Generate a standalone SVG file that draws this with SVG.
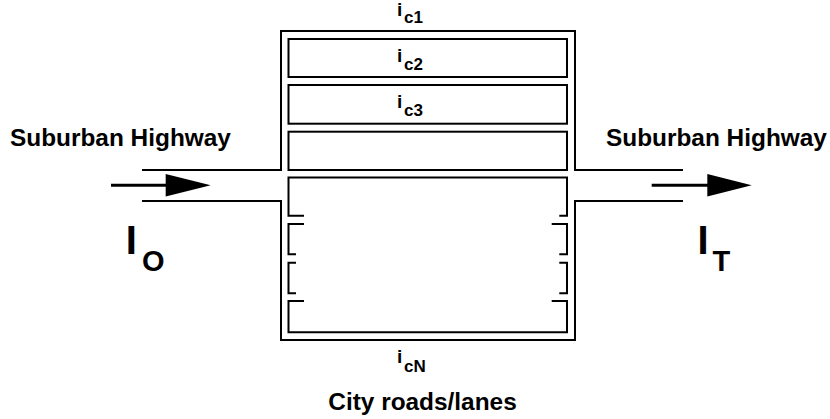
<svg xmlns="http://www.w3.org/2000/svg" width="830" height="419" viewBox="0 0 830 419">
<defs>
<style>
.ln{fill:none;stroke:#000;stroke-width:2;stroke-linejoin:miter;stroke-linecap:butt}
.t{font-family:"Liberation Sans",Arial,sans-serif;font-weight:bold;fill:#000}
.lab{font-size:24.4px}
.big{font-size:40px}
.bsub{font-size:29px}
.i{font-size:19px}
.isub{font-size:17px}
</style>
</defs>
<rect width="830" height="419" fill="#fff"/>
<g id="city-roads">
<path class="ln" d="M142,170 H281 V31 H575 V170 H683"/>
<path class="ln" d="M142,201 H281 V340 H575 V201 H683"/>
</g>
<g id="lane-c1">
<text class="t i" x="397" y="16">i<tspan class="isub" x="404" y="23.3">c1</tspan></text>
</g>
<g id="lane-c2">
<rect class="ln" x="288.5" y="39" width="278.5" height="38"/>
<text class="t i" x="397" y="61.7">i<tspan class="isub" x="404" y="70">c2</tspan></text>
</g>
<g id="lane-c3">
<rect class="ln" x="288.5" y="85" width="278.5" height="38.7"/>
<text class="t i" x="397" y="107.7">i<tspan class="isub" x="404" y="116">c3</tspan></text>
</g>
<g id="lane-c4">
<rect class="ln" x="288.5" y="131.7" width="278.5" height="38.3"/>
</g>
<g id="lane-grid">
<path class="ln" d="M304,215.7 H288.5 V177.5 H567 V215.7 H559.3"/>
<path class="ln" d="M304,224 H288.5 V254.3 H296"/>
<path class="ln" d="M296,262.7 H288.5 V293.3 H296"/>
<path class="ln" d="M304,301 H288.5 V332.3 H567 V301 H551.7"/>
<path class="ln" d="M551.7,224 H567 V254.3 H559.3"/>
<path class="ln" d="M559.3,262.7 H567 V293.3 H559.3"/>
</g>
<g id="lane-cN">
<text class="t i" x="397" y="363.3">i<tspan class="isub" x="404" y="371.7">cN</tspan></text>
</g>
<g id="label-city">
<text class="t lab" x="422.5" y="409.5" text-anchor="middle">City roads/lanes</text>
</g>
<g id="highway-in">
<text class="t lab" x="10" y="146">Suburban Highway</text>
<text class="t big" x="125.7" y="254.3">I<tspan class="bsub" x="142" y="271">O</tspan></text>
</g>
<g id="highway-out">
<text class="t lab" x="606" y="146">Suburban Highway</text>
<text class="t big" x="697.4" y="254.3">I<tspan class="bsub" x="712.5" y="270.7">T</tspan></text>
</g>
<g id="connectors">
<line x1="111" y1="185.3" x2="167" y2="185.3" stroke="#000" stroke-width="3"/>
<polygon points="165.7,174 210.7,185.3 165.7,196.5" fill="#000"/>
<line x1="651.7" y1="185.3" x2="708" y2="185.3" stroke="#000" stroke-width="3"/>
<polygon points="707.3,174 751.7,185.3 707.3,196.5" fill="#000"/>
</g>
</svg>
